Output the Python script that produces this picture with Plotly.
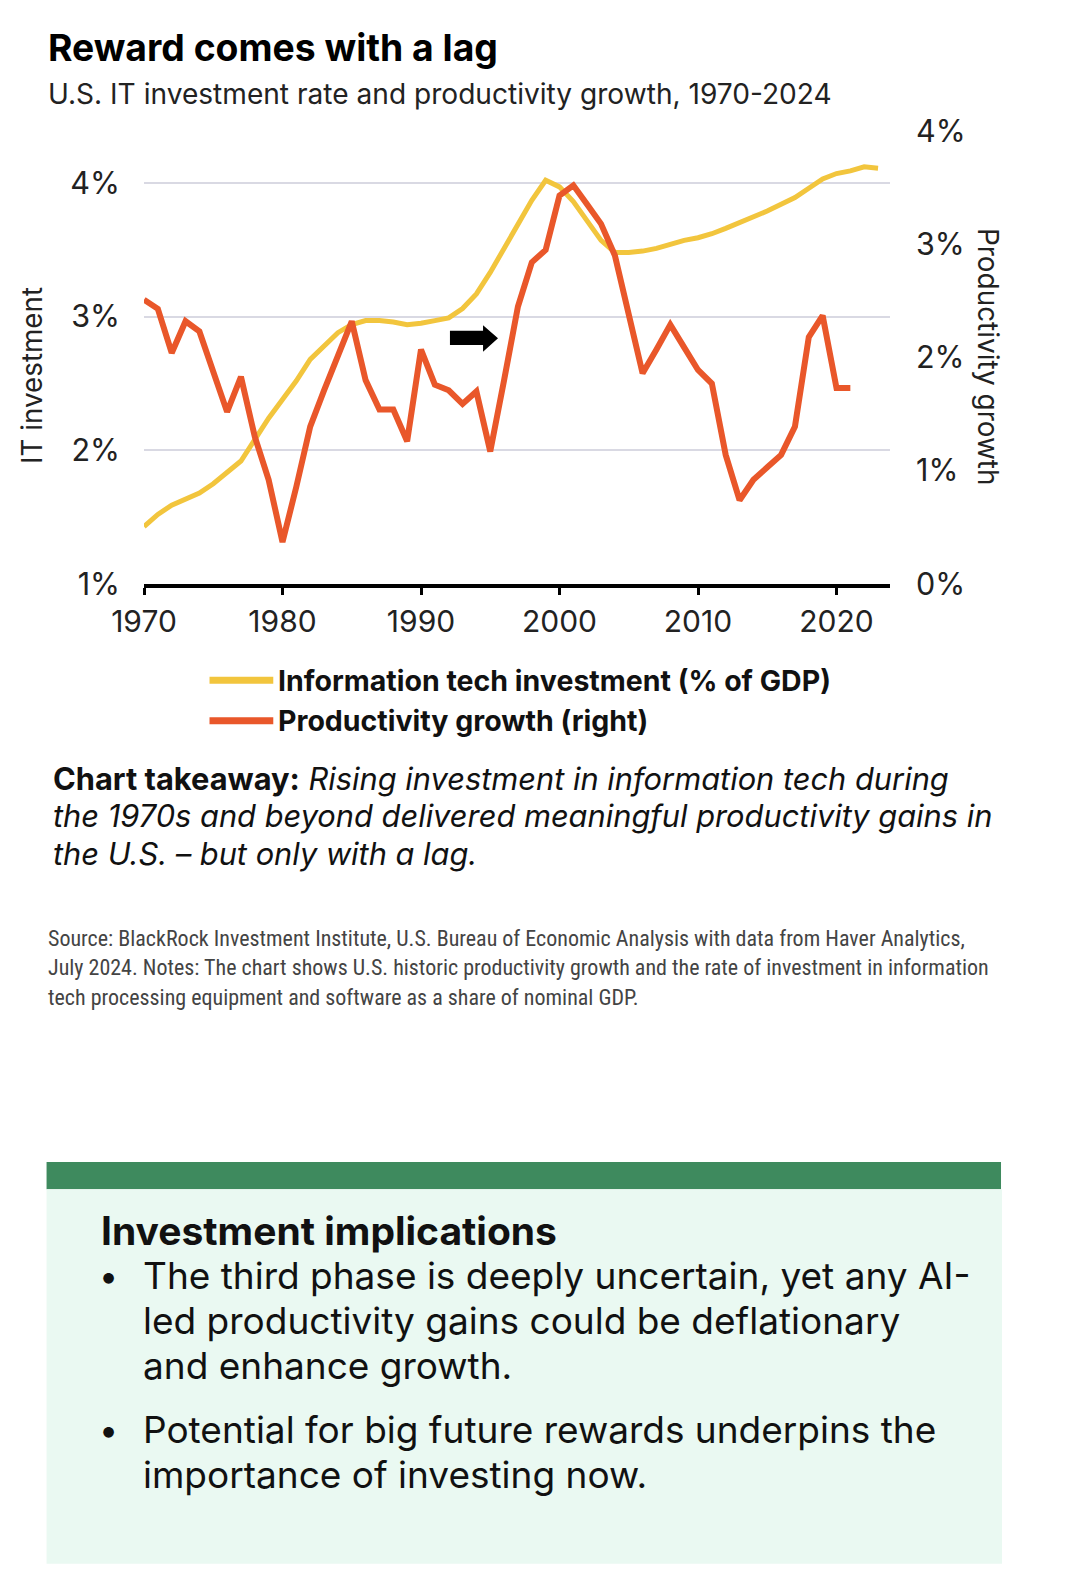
import plotly.graph_objects as go

# ---------------- data ----------------
years = list(range(1970, 2024))
it_investment = [  # % of GDP (left axis)
    1.43, 1.52, 1.59, 1.63, 1.68, 1.75, 1.83, 1.92, 2.08, 2.24,
    2.38, 2.52, 2.68, 2.78, 2.88, 2.94, 2.97, 2.97, 2.96, 2.94,
    2.95, 2.97, 2.99, 3.06, 3.17, 3.33, 3.51, 3.68, 3.87, 4.02,
    3.97, 3.86, 3.72, 3.57, 3.48, 3.48, 3.49, 3.51, 3.54, 3.57,
    3.59, 3.62, 3.66, 3.70, 3.74, 3.79, 3.84, 3.89, 3.96, 4.03,
    4.07, 4.09, 4.12, 4.11,
]
prod_years = list(range(1970, 2022))
productivity = [  # % growth (right axis)
    2.51, 2.43, 2.04, 2.32, 2.23, 1.87, 1.52, 1.83, 1.30, 0.92,
    0.37, 0.86, 1.39, 1.71, 2.01, 2.32, 1.80, 1.54, 1.54, 1.26,
    2.07, 1.76, 1.71, 1.59, 1.70, 1.17, 1.80, 2.45, 2.84, 2.95,
    3.43, 3.52, 3.35, 3.18, 2.90, 2.36, 1.86, 2.07, 2.29, 2.09,
    1.89, 1.77, 1.14, 0.74, 0.92, 1.03, 1.14, 1.39, 2.18, 2.37,
    1.73, 1.73,
]
x_ticks = [1970, 1980, 1990, 2000, 2010, 2020]
left_ticks = [1, 2, 3, 4]
left_ticktext = ["1%", "2%", "3%", "4%"]
right_ticks = [0, 1, 2, 3, 4]
right_ticktext = ["0%", "1%", "2%", "3%", "4%"]

# ---------------- style / layout ----------------
W, H = 1080, 1584
L, R, T, B = 144, 890, 131, 584          # plot area in pixels
PW, PH = R - L, B - T
S = 0.988                                 # preview scale of measured layout positions

YELLOW = "#F2C53D"
ORANGE = "#E9572A"
FONT = "Inter"
NARROW = "Liberation Sans Narrow, Roboto Condensed, Roboto, sans-serif"

def P(X, Y):
    """measured (preview) pixel -> paper coordinates"""
    X, Y = X / S, Y / S
    return (X - L) / PW, (B - Y) / PH

fig = go.Figure()
fig.add_trace(go.Scatter(
    x=years, y=it_investment, mode="lines", name="Information tech investment (% of GDP)",
    line=dict(color=YELLOW, width=5), yaxis="y", showlegend=False, hoverinfo="skip"))
fig.add_trace(go.Scatter(
    x=prod_years, y=productivity, mode="lines", name="Productivity growth (right)",
    line=dict(color=ORANGE, width=6), yaxis="y2", showlegend=False, hoverinfo="skip"))

fig.update_layout(
    width=W, height=H,
    margin=dict(l=L, r=W - R, t=T, b=H - B, pad=0),
    paper_bgcolor="white", plot_bgcolor="white",
    font=dict(family=FONT, color="#222222"),
    xaxis=dict(range=[1970, 1970 + PW / 13.85], tickvals=x_ticks, ticks="outside",
               ticklen=7, tickwidth=3, tickcolor="black", showline=True, linecolor="black",
               linewidth=4, showgrid=False, zeroline=False, ticklabelstandoff=1,
               tickfont=dict(size=30, color="#222222", family=FONT)),
    yaxis=dict(range=[1, 1 + PH / 133.7], tickvals=left_ticks, ticktext=left_ticktext,
               showgrid=True, gridcolor="#D9D9E3", gridwidth=2, zeroline=False,
               showline=False, ticks="", ticklabelstandoff=23,
               tickfont=dict(size=30.5, color="#222222", family=FONT)),
    yaxis2=dict(range=[0, 4.0], tickvals=right_ticks, ticktext=right_ticktext,
                overlaying="y", side="right", showgrid=False, zeroline=False,
                showline=False, ticks="", ticklabelstandoff=25,
                tickfont=dict(size=30.5, color="#222222", family=FONT)),
)

# arrow (decoration, in data coordinates of left axis)
AX0, AXN, AXT = 1992.09, 1994.48, 1995.56
AYS_T, AYS_B, AYH_T, AYH_B, AYM = 2.894, 2.788, 2.936, 2.737, 2.838
fig.add_shape(type="path", xref="x", yref="y",
              path=(f"M{AX0},{AYS_T} L{AXN},{AYS_T} L{AXN},{AYH_T} L{AXT},{AYM} "
                    f"L{AXN},{AYH_B} L{AXN},{AYS_B} L{AX0},{AYS_B} Z"),
              fillcolor="black", line=dict(width=0))

annotations = []

def text(X, Y, s, size, family=FONT, color="#111111", xanchor="left", angle=0):
    x, y = P(X, Y)
    annotations.append(dict(x=x, y=y, xref="paper", yref="paper", text=s, showarrow=False,
                            xanchor=xanchor, yanchor="middle", textangle=angle,
                            font=dict(size=size, family=family, color=color)))

# titles
text(45, 47, "<b>Reward comes with a lag</b>", 37.3, color="#000000")
text(45, 93, "U.S. IT investment rate and productivity growth, 1970-2024", 28.1, color="#222222")

# axis titles (left already in place, right title already in place in preview)
text(32 * S, 376 * S, "IT investment", 27.8, color="#222222", xanchor="center", angle=-90)
text(988 * S, 356 * S, "Productivity growth", 27.9, color="#222222", xanchor="center", angle=90)

# legend
for yy, col, lab in [(672, YELLOW, "Information tech investment (% of GDP)"),
                     (712, ORANGE, "Productivity growth (right)")]:
    x0, y0 = P(207, yy)
    x1, _ = P(270, yy)
    fig.add_shape(type="line", xref="paper", yref="paper", x0=x0, x1=x1, y0=y0, y1=y0,
                  line=dict(color=col, width=7))
    text(273, yy, f"<b>{lab}</b>", 28.5, color="#111111")

# takeaway
text(50, 769, "<b>Chart takeaway:</b> <i>Rising investment in information tech during</i>", 30.8)
text(50, 806, "<i>the 1970s and beyond delivered meaningful productivity gains in</i>", 30.8)
text(50, 843, "<i>the U.S. – but only with a lag.</i>", 30.8)

# source
src = ["Source: BlackRock Investment Institute, U.S. Bureau of Economic Analysis with data from Haver Analytics,",
       "July 2024. Notes: The chart shows U.S. historic productivity growth and the rate of investment in information",
       "tech processing equipment and software as a share of nominal GDP."]
for yy, s in zip([927, 956, 986], src):
    text(45, yy, s, 22, family=NARROW, color="#444444")

# implications box
bx0, by0 = P(46, 1148)
bx1, by1 = P(989, 1175)
fig.add_shape(type="rect", xref="paper", yref="paper", x0=bx0, x1=bx1, y0=by1, y1=by0,
              fillcolor="#3E8A5E", line=dict(width=0), layer="below")
mx0, my0 = P(46, 1175)
mx1, my1 = P(990, 1545)
fig.add_shape(type="rect", xref="paper", yref="paper", x0=mx0, x1=mx1, y0=my1, y1=my0,
              fillcolor="#EAF9F2", line=dict(width=0), layer="below")

text(98, 1216, "<b>Investment implications</b>", 39, color="#111111")
text(96, 1260, "•", 34, color="#111111")
text(96, 1412, "•", 34, color="#111111")
lines = [(1260, "The third phase is deeply uncertain, yet any AI-"),
         (1305, "led productivity gains could be deflationary"),
         (1349, "and enhance growth."),
         (1412, "Potential for big future rewards underpins the"),
         (1457, "importance of investing now.")]
for yy, s in lines:
    text(139, yy, s, 37, color="#111111")

fig.update_layout(annotations=annotations)
POST = ("var d=document.getElementById('{plot_id}');d.style.display='block';"
        "var h=document.documentElement,b=document.body;"
        "b.style.margin='0';b.style.padding='0';b.style.overflow='hidden';"
        "h.style.overflow='hidden';")
fig.write_html("out.html", config={"displayModeBar": False}, post_script=POST)
